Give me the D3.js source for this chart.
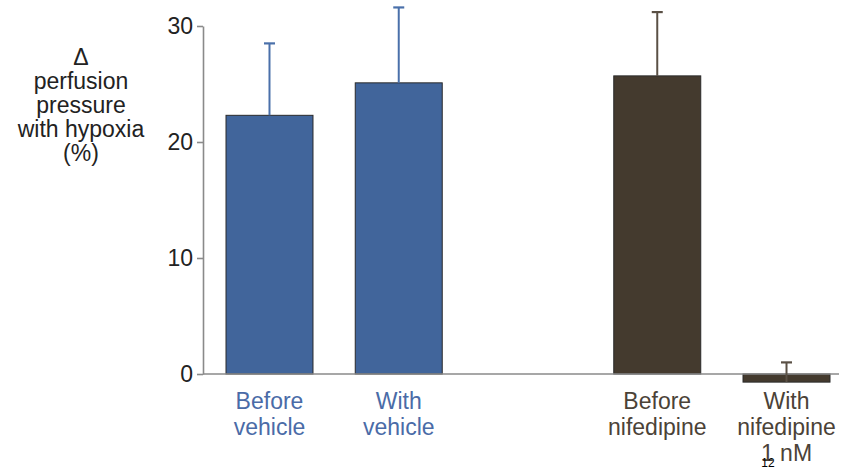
<!DOCTYPE html>
<html>
<head>
<meta charset="utf-8">
<script src="https://cdn.jsdelivr.net/npm/d3@7"></script>
<style>
  html, body { margin: 0; padding: 0; background: #fff; }
  svg { display: block; }
  text { font-family: "Liberation Sans", Arial, Helvetica, sans-serif; }
</style>
</head>
<body>
<div id="chart"></div>
<script>
// ---- data ----
const categories = ["Before vehicle", "With vehicle", "Before nifedipine", "With nifedipine 1 nM"];
const slots = ["Before vehicle", "With vehicle", "gap", "Before nifedipine", "With nifedipine 1 nM"];
const labelLines = [["Before", "vehicle"], ["With", "vehicle"], ["Before", "nifedipine"], ["With", "nifedipine", "1 nM"]];
const groups = ["vehicle", "vehicle", "nifedipine", "nifedipine"];
const means = [22.3, 25.1, 25.7, -0.7];
const errUpper = [28.5, 31.6, 31.2, 1.0];
const yTicks = [0, 10, 20, 30];
const yTitle = ["\u0394", "perfusion", "pressure", "with hypoxia", "(%)"];

// ---- styles ----
const W = 843, H = 469;
const fillColor = { vehicle: "#41659b", nifedipine: "#443a2e" };
const errColor = { vehicle: "#4a70aa", nifedipine: "#5a5045" };
const labelColor = { vehicle: "#4a6ba7", nifedipine: "#4b4237" };

const svg = d3.select("#chart").append("svg").attr("width", W).attr("height", H);

const x = d3.scaleBand().domain(slots).range([226, 830]).paddingInner(0.327).paddingOuter(0);
const y = d3.scaleLinear().domain([0, 30]).range([374, 26]);

// y axis
const yAxis = svg.append("g").attr("transform", "translate(203,0)")
  .call(d3.axisLeft(y).tickValues(yTicks).tickSize(6).tickSizeOuter(0).tickPadding(4));
yAxis.select(".domain").attr("stroke", "#8a8a8a").attr("stroke-width", 1.6);
yAxis.selectAll(".tick line").attr("stroke", "#8a8a8a").attr("stroke-width", 1.6);
yAxis.selectAll(".tick text").attr("fill", "#222").attr("font-size", 23)
  .attr("font-family", "'Liberation Sans', Arial, sans-serif");

// bars
const data = categories.map((c, i) => ({ c, m: means[i], e: errUpper[i], g: groups[i], lines: labelLines[i] }));

svg.selectAll("rect.bar").data(data).enter().append("rect")
  .attr("class", "bar")
  .attr("x", d => x(d.c))
  .attr("width", x.bandwidth())
  .attr("y", d => y(Math.max(0, d.m)))
  .attr("height", d => Math.abs(y(d.m) - y(0)))
  .attr("fill", d => fillColor[d.g])
  .attr("stroke", "#2a2a2a")
  .attr("stroke-width", 1);

// baseline
svg.append("line")
  .attr("x1", 203).attr("x2", 839)
  .attr("y1", y(0)).attr("y2", y(0))
  .attr("stroke", "#8a8a8a").attr("stroke-width", 1.6);

// error bars
const eb = svg.selectAll("g.err").data(data).enter().append("g").attr("class", "err");
eb.append("line")
  .attr("x1", d => x(d.c) + x.bandwidth() / 2).attr("x2", d => x(d.c) + x.bandwidth() / 2)
  .attr("y1", d => y(d.m)).attr("y2", d => y(d.e))
  .attr("stroke", d => errColor[d.g]).attr("stroke-width", 2);
eb.append("line")
  .attr("x1", d => x(d.c) + x.bandwidth() / 2 - 5.5).attr("x2", d => x(d.c) + x.bandwidth() / 2 + 5.5)
  .attr("y1", d => y(d.e)).attr("y2", d => y(d.e))
  .attr("stroke", d => errColor[d.g]).attr("stroke-width", 2.2);

// category labels
data.forEach(d => {
  const t = svg.append("text")
    .attr("x", x(d.c) + x.bandwidth() / 2)
    .attr("y", 409)
    .attr("text-anchor", "middle")
    .attr("font-size", 23)
    .attr("fill", labelColor[d.g]);
  d.lines.forEach((ln, i) => {
    t.append("tspan").attr("x", x(d.c) + x.bandwidth() / 2).attr("dy", i === 0 ? 0 : 26).text(ln);
  });
});

// y title
const yt = svg.append("text").attr("x", 81).attr("y", 65)
  .attr("text-anchor", "middle").attr("font-size", 23).attr("fill", "#222");
yTitle.forEach((ln, i) => {
  yt.append("tspan").attr("x", 81).attr("dy", i === 0 ? 0 : 24).text(ln);
});

// page number artifact
svg.append("text").attr("x", 768).attr("y", 467).attr("text-anchor", "middle")
  .attr("font-size", 12).attr("fill", "#000").text("12");
</script>
</body>
</html>
